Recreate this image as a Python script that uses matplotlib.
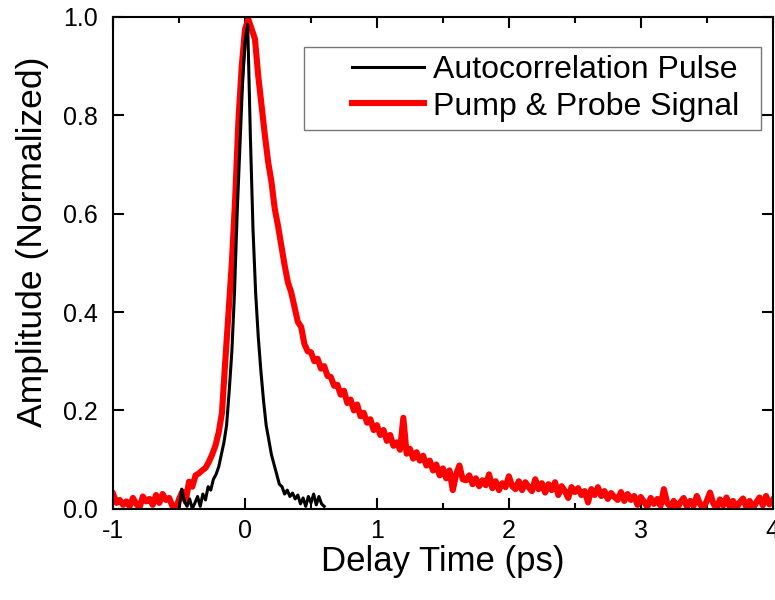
import numpy as np
import matplotlib
matplotlib.use("Agg")
import matplotlib.pyplot as plt
from matplotlib.legend_handler import HandlerLine2D

plt.rcParams['font.family'] = ['Liberation Sans', 'DejaVu Sans']

# Pump & probe signal, sampled every 0.025 ps from -1 to 4 ps
probe_delay = np.round(np.arange(-1.0, 4.0001, 0.025), 3)
probe_amp = [
    0.030, 0.012, 0.018, 0.008, 0.015, 0.005, 0.022, 0.010, 0.002, 0.025,
    0.015, 0.020, 0.008, 0.028, 0.012, 0.030, 0.018, 0.022, 0.005, 0.000,
    0.020, 0.035, 0.015, 0.055, 0.045, 0.068, 0.072, 0.078, 0.083, 0.095,
    0.110, 0.128, 0.155, 0.195, 0.300, 0.400, 0.500, 0.630, 0.790, 0.900,
    0.975, 0.995, 0.975, 0.955, 0.880, 0.820, 0.760, 0.705, 0.665, 0.610,
    0.575, 0.535, 0.495, 0.460, 0.440, 0.410, 0.380, 0.370, 0.335, 0.320,
    0.318, 0.300, 0.305, 0.285, 0.290, 0.270, 0.268, 0.250, 0.252, 0.232,
    0.240, 0.215, 0.222, 0.200, 0.212, 0.188, 0.195, 0.175, 0.182, 0.160,
    0.170, 0.150, 0.160, 0.138, 0.150, 0.128, 0.135, 0.120, 0.185, 0.112,
    0.122, 0.102, 0.115, 0.098, 0.108, 0.088, 0.098, 0.078, 0.090, 0.068,
    0.082, 0.062, 0.078, 0.038, 0.070, 0.088, 0.060, 0.058, 0.068, 0.050,
    0.062, 0.046, 0.058, 0.048, 0.070, 0.042, 0.056, 0.038, 0.052, 0.044,
    0.066, 0.046, 0.040, 0.056, 0.038, 0.054, 0.044, 0.036, 0.060, 0.040,
    0.052, 0.033, 0.050, 0.038, 0.054, 0.028, 0.046, 0.036, 0.022, 0.044,
    0.034, 0.042, 0.028, 0.036, 0.013, 0.040, 0.028, 0.044, 0.026, 0.036,
    0.020, 0.032, 0.024, 0.018, 0.034, 0.016, 0.030, 0.018, 0.026, 0.008,
    0.024, 0.014, 0.004, 0.022, 0.010, 0.020, 0.006, 0.040, 0.012, 0.004,
    0.016, 0.000, 0.013, 0.022, 0.004, 0.016, 0.006, 0.026, 0.009, 0.001,
    0.016, 0.033, 0.011, 0.000, 0.019, 0.007, 0.023, 0.004, 0.016, 0.001,
    0.013, 0.021, 0.004, 0.016, 0.000, 0.013, 0.023, 0.007, 0.026, 0.009,
    0.018,
]

# Autocorrelation pulse, sampled every 0.02 ps from -0.5 to 0.6 ps
pulse_delay = np.round(np.arange(-0.5, 0.6001, 0.02), 3)
pulse_amp = [
    0.000, 0.040, 0.015, 0.005, 0.020, 0.000, 0.012, 0.025, 0.005, 0.030,
    0.018, 0.045, 0.038, 0.060, 0.070, 0.085, 0.110, 0.135, 0.170, 0.240,
    0.320, 0.440, 0.600, 0.730, 0.860, 0.950, 0.985, 0.760, 0.570, 0.440,
    0.350, 0.280, 0.220, 0.170, 0.140, 0.110, 0.090, 0.070, 0.050, 0.045,
    0.030, 0.038, 0.025, 0.032, 0.020, 0.028, 0.010, 0.022, 0.005, 0.025,
    0.012, 0.030, 0.008, 0.025, 0.010, 0.005,
]

xticks = [-1, 0, 1, 2, 3, 4]
yticks = [0.0, 0.2, 0.4, 0.6, 0.8, 1.0]

fig = plt.figure(figsize=(7.75, 6.0), dpi=100)
ax = fig.add_axes([0.146, 0.152, 0.851, 0.820])

pulse_line, = ax.plot(pulse_delay, pulse_amp, color='black', lw=2.2,
                      label='Autocorrelation Pulse', zorder=3)
probe_line, = ax.plot(probe_delay, probe_amp, color='#ff0000', lw=4.4,
                      label='Pump & Probe Signal', zorder=2)

ax.set_xlim(-1, 4)
ax.set_ylim(0, 1.0)
ax.set_xticks(xticks)
ax.set_xticklabels([str(t) for t in xticks])
ax.set_xticks(np.arange(-0.5, 4, 1.0), minor=True)
ax.set_yticks(yticks)
ax.set_yticklabels(['%.1f' % t for t in yticks])

ax.tick_params(which='both', direction='in', top=True, right=True,
               width=1.5, labelsize=18)
ax.tick_params(axis='x', pad=7)
ax.tick_params(axis='y', pad=11)
ax.tick_params(which='major', length=8)
ax.tick_params(which='minor', length=4)
for s in ax.spines.values():
    s.set_linewidth(1.5)

ax.set_xlabel('Delay Time (ps)', fontsize=25, labelpad=2)
ax.set_ylabel('Amplitude (Normalized)', fontsize=25.5)
ax.yaxis.set_label_coords(-0.098, 0.543)

leg = ax.legend(handles=[pulse_line, probe_line], loc='upper left',
                bbox_to_anchor=(0.289, 0.774, 0.694, 0.165), mode='expand',
                borderaxespad=0, fontsize=23, frameon=True, fancybox=False,
                handlelength=3.5, handletextpad=0.28, borderpad=0.26,
                labelspacing=0.2,
                handler_map={pulse_line: HandlerLine2D(xpad=1.25),
                             probe_line: HandlerLine2D(xpad=1.25)})
leg.get_frame().set_edgecolor('#555555')
leg.get_frame().set_linewidth(1.0)

fig.savefig('out.png', dpi=100)
